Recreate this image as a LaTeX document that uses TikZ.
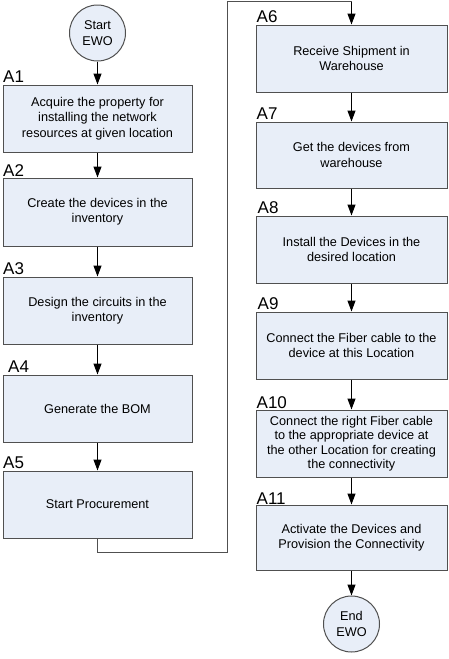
\documentclass[tikz,border=0pt]{standalone}
\usepackage{fontspec}
\setmainfont{Liberation Sans}
\usetikzlibrary{arrows.meta}
\definecolor{boxfill}{HTML}{E8EEF8}
\definecolor{boxline}{HTML}{505050}
\tikzset{
  stepbox/.style={draw=boxline, line width=1pt, fill=boxfill, rectangle,
    minimum width=189pt, minimum height=67pt, inner sep=0pt, align=center,
    font=\fontsize{12.7}{15.3}\selectfont},
  endpoint/.style={draw=boxline, line width=1pt, fill=boxfill, circle,
    minimum size=56pt, inner sep=0pt, align=center,
    font=\fontsize{12.7}{15.3}\selectfont},
  lbl/.style={anchor=base west, inner sep=0pt, font=\fontsize{17}{17}\selectfont},
  arr/.style={draw=black, line width=1pt, -{Triangle[width=8pt,length=11pt]}},
  conn/.style={draw=boxline, line width=1pt}
}
\begin{document}
\begin{tikzpicture}[x=1pt,y=-1pt]
\useasboundingbox (0,0) rectangle (448,659);
% left column
\node[endpoint] (start) at (97.5,33) {Start\\EWO};
\node[stepbox] (A1) at (97.5,118.5) {Acquire the property for\\installing the network\\resources at given location};
\node[stepbox, minimum height=68pt] (A2) at (97.5,212) {Create the devices in the\\inventory};
\node[stepbox] (A3) at (97.5,310.5) {Design the circuits in the\\inventory};
\node[stepbox] (A4) at (97.5,408.5) {Generate the BOM};
\node[stepbox] (A5) at (97.5,504.5) {Start Procurement};
% right column
\node[stepbox, minimum width=191pt] (A6) at (351.5,58.5) {Receive Shipment in\\Warehouse};
\node[stepbox, minimum width=191pt, minimum height=66pt] (A7) at (351.5,155) {Get the devices from\\warehouse};
\node[stepbox, minimum width=191pt] (A8) at (351.5,249.5) {Install the Devices in the\\desired location};
\node[stepbox, minimum width=191pt] (A9) at (351.5,345.5) {Connect the Fiber cable to the\\device at this Location};
\node[stepbox, minimum width=191pt, font=\fontsize{12.7}{14.5}\selectfont] (A10) at (351.5,443.5) {Connect the right Fiber cable\\to the appropriate device at\\the other Location for creating\\the connectivity};
\node[stepbox, minimum width=191pt, minimum height=65pt] (A11) at (351.5,537.5) {Activate the Devices and\\Provision the Connectivity};
\node[endpoint] (end) at (351.5,624) {End\\EWO};
% labels
\node[lbl] (L1) at ([xshift=0.5pt,yshift=2pt]A1.north west) {A1};
\node[lbl] (L2) at ([xshift=0.5pt,yshift=1pt]A2.north west) {A2};
\node[lbl] (L3) at ([xshift=0.5pt,yshift=2pt]A3.north west) {A3};
\node[lbl] (L4) at ([xshift=5.5pt,yshift=2.5pt]A4.north west) {A4};
\node[lbl] (L5) at ([xshift=0.5pt,yshift=2pt]A5.north west) {A5};
\node[lbl] (L6) at ([xshift=1pt,yshift=2pt]A6.north west) {A6};
\node[lbl] (L7) at ([xshift=1pt,yshift=2pt]A7.north west) {A7};
\node[lbl] (L8) at ([xshift=2pt,yshift=2pt]A8.north west) {A8};
\node[lbl] (L9) at ([xshift=2pt,yshift=2pt]A9.north west) {A9};
\node[lbl] (L10) at ([xshift=1pt,yshift=1pt]A10.north west) {A10};
\node[lbl] (L11) at ([xshift=1pt,yshift=0.5pt]A11.north west) {A11};
% connectors
\draw[arr] (start) -- (A1);
\draw[arr] (A1) -- (A2);
\draw[arr] (A2) -- (A3);
\draw[arr] (A3) -- (A4);
\draw[arr] (A4) -- (A5);
\coordinate (c1) at (97.5,552);
\coordinate (c2) at (227,552);
\coordinate (c3) at (227,1.5);
\coordinate (c4) at (351.5,1.5);
\draw[conn] (A5.south) -- (c1) -- (c2) -- (c3) -- (c4);
\draw[arr] (c4) -- (A6.north);
\draw[arr] (A6) -- (A7);
\draw[arr] (A7) -- (A8);
\draw[arr] (A8) -- (A9);
\draw[arr] (A9) -- (A10);
\draw[arr] (A10) -- (A11);
\draw[arr] (A11) -- (end);
\end{tikzpicture}
\end{document}
